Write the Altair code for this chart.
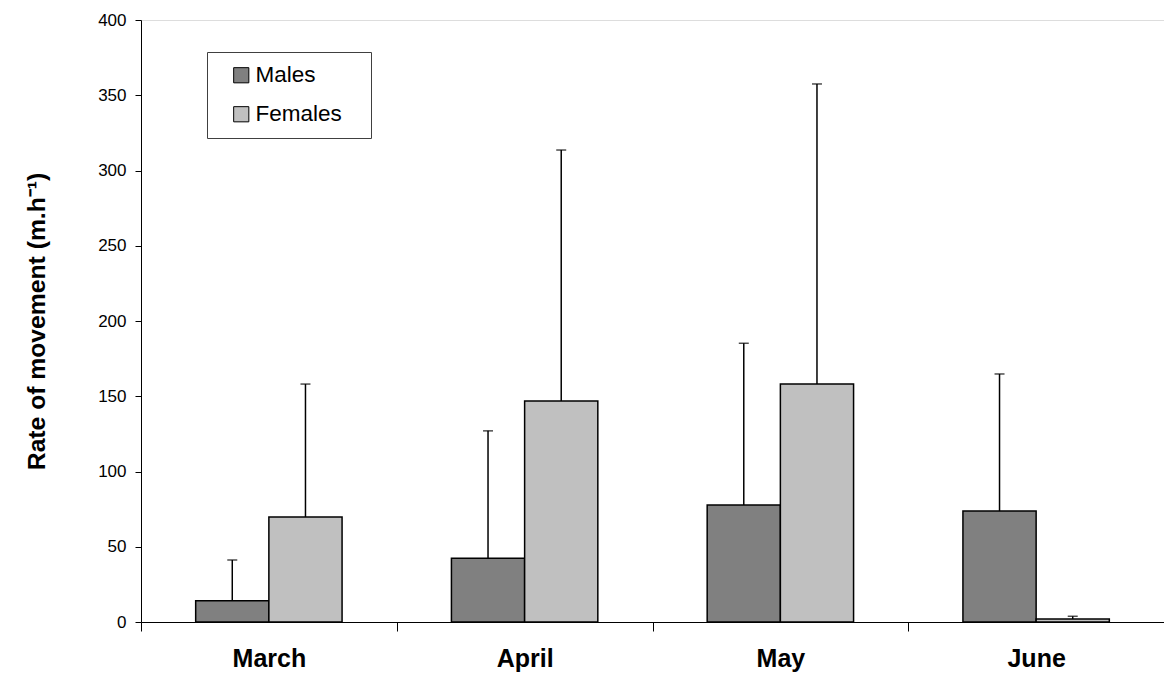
import altair as alt
import pandas as pd

months = ["March", "April", "May", "June"]
sexes = ["Males", "Females"]
males_mean = [14.2, 42.3, 77.7, 73.7]
males_upper = [41.2, 127.0, 185.2, 164.8]
females_mean = [69.8, 146.8, 158.1, 2.0]
females_upper = [158.1, 313.6, 357.5, 3.8]

rows = []
for i, m in enumerate(months):
    rows.append({"month": m, "sex": "Males", "value": males_mean[i], "upper": males_upper[i]})
    rows.append({"month": m, "sex": "Females", "value": females_mean[i], "upper": females_upper[i]})
df = pd.DataFrame(rows)

FONT = "Liberation Sans"

x_enc = alt.X("month:N", sort=months, title=None,
              scale=alt.Scale(paddingInner=0, paddingOuter=0),
              axis=alt.Axis(tickBand="extent", tickSize=9, tickColor="black", domainColor="black",
                            labelFontSize=25, labelFontWeight="bold", labelFont=FONT,
                            labelColor="black", labelPadding=15, labelAngle=0, grid=False))
xo_enc = alt.XOffset("sex:N", sort=sexes, scale=alt.Scale(paddingInner=0, paddingOuter=0.747))
y_scale = alt.Scale(domain=[0, 400], nice=False)

bars = alt.Chart(df).mark_bar(stroke="black", strokeWidth=1.5).encode(
    x=x_enc,
    xOffset=xo_enc,
    y=alt.Y("value:Q", scale=y_scale, title="Rate of movement (m.h⁻¹)",
            axis=alt.Axis(values=list(range(0, 401, 50)), tickSize=6, tickColor="black",
                          domainColor="black", labelFontSize=17, labelFont=FONT, labelColor="black",
                          labelPadding=9, grid=False, titleFont=FONT, titleFontSize=24.7,
                          titleFontWeight="bold", titleColor="black", titleX=-104, titleY=301,
                          titleAngle=-90, titleAlign="center", titleBaseline="middle")),
    color=alt.Color("sex:N", sort=sexes,
                    scale=alt.Scale(domain=sexes, range=["#808080", "#c0c0c0"]),
                    legend=alt.Legend(title=None, orient="none", legendX=66, legendY=32,
                                      symbolType="square", symbolSize=230,
                                      symbolStrokeColor="black", symbolStrokeWidth=1,
                                      labelFont=FONT, labelFontSize=22.5, labelColor="black",
                                      labelOffset=3, padding=12, symbolOffset=11,
                                      rowPadding=16, strokeColor="#404040", fillColor="white",
                                      labelExpr="datum.label + '\u2800'")),
)

err = alt.Chart(df).mark_rule(color="black", strokeWidth=1.5).encode(
    x=alt.X("month:N", sort=months),
    xOffset=alt.XOffset("sex:N", sort=sexes),
    y=alt.Y("value:Q"),
    y2=alt.Y2("upper:Q"),
)

caps = alt.Chart(df).mark_tick(color="black", thickness=1.5, size=10, orient="horizontal").encode(
    x=alt.X("month:N", sort=months),
    xOffset=alt.XOffset("sex:N", sort=sexes),
    y=alt.Y("upper:Q"),
)

chart = alt.layer(bars, err, caps).properties(
    width=1023, height=602,
    autosize=alt.AutoSizeParams(type="none"),
    padding={"left": 133, "top": 12, "right": 0, "bottom": 53},
).configure_view(stroke="black", strokeWidth=1.5).configure(background="white")

chart.save("out.html", embed_options={"renderer": "svg", "actions": False})
